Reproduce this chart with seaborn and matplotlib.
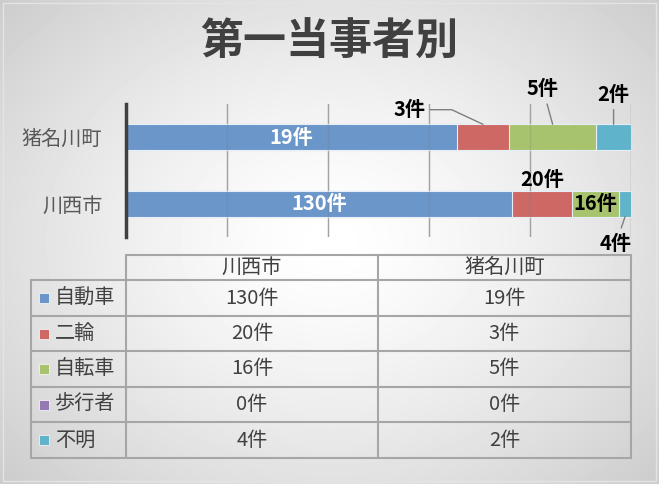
import numpy as np
import pandas as pd
import matplotlib.pyplot as plt
import seaborn as sns
from matplotlib.patches import Rectangle

towns = ['猪名川町', '川西市']
kinds = ['自動車', '二輪', '自転車', '歩行者', '不明']
kawanishi = [130, 20, 16, 0, 4]
inagawa = [19, 3, 5, 0, 2]
colors = ['#6a96c9', '#cd6864', '#a7c36d', '#9579b3', '#5fb3ca']
table_cols = ['川西市', '猪名川町']

sns.set_theme(style='white')
plt.rcParams['font.family'] = ['Noto Sans CJK JP', 'DejaVu Sans']

df = pd.DataFrame({'川西市': kawanishi, '猪名川町': inagawa}, index=kinds)
pct = df / df.sum() * 100
cum = pct.cumsum()
mid = cum - pct / 2

W, H = 659, 484
fig = plt.figure(figsize=(W / 100, H / 100), dpi=100)

# background with radial gradient, also used for the data table
bg = fig.add_axes([0, 0, 1, 1], zorder=0)
yy, xx = np.mgrid[0:H, 0:W]
r = np.sqrt(((xx - 330) / 330) ** 2 + ((yy - 240) / 260) ** 2)
shade = np.clip(1 - 0.13 * r ** 1.4, 0, 1)
bg.imshow(shade, cmap='gray', vmin=0, vmax=1, extent=(0, W, H, 0), aspect='auto')
bg.set_xlim(0, W)
bg.set_ylim(H, 0)
bg.axis('off')
bg.add_patch(Rectangle((3, 3), W - 6, H - 6, fill=False, ec='#e4e4e4', lw=1))

fig.text(0.5, 1 - 42 / H, '第一当事者別', ha='center', va='center',
         fontsize=31, fontweight='bold', color='#404040')

# stacked 100% bars
ax = fig.add_axes([126 / W, 1 - 237 / H, 505 / W, 133 / H], zorder=1)
ax.patch.set_alpha(0)
for i in range(len(kinds) - 1, -1, -1):
    k = kinds[i]
    sns.barplot(x=cum.loc[k, towns].values, y=towns, color=colors[i], saturation=1,
                width=0.39, orient='h', edgecolor='#e8eef5', linewidth=0.8, ax=ax)
ax.set_xlim(0, 100)
ax.set_ylim(1.5, -0.5)
ax.set_xlabel('')
ax.set_ylabel('')
ax.set_xticks([0, 20, 40, 60, 80, 100])
ax.set_xticklabels([])
ax.grid(axis='x', color='#b0b0b0', lw=1)
ax.set_axisbelow(True)
for t in [20, 40, 60, 80, 100]:
    ax.axvline(t, color='#808080', lw=1, alpha=0.25, zorder=3)
for s in ['top', 'right', 'bottom']:
    ax.spines[s].set_visible(False)
ax.spines['left'].set_color('#404040')
ax.spines['left'].set_linewidth(2.5)
ax.tick_params(axis='y', length=0, pad=17, labelsize=14.5, labelcolor='#595959')
ax.tick_params(axis='x', length=0)

lbl = dict(fontsize=14.5, fontweight='bold', ha='center', va='center')
line = dict(arrowstyle='-', color='#7f7f7f', lw=1, shrinkA=1, shrinkB=0)
half = 0.195

# inside labels
ax.text(mid.loc['自動車', '猪名川町'], 0, f"{df.loc['自動車', '猪名川町']}件", color='white', **lbl)
ax.text(mid.loc['自動車', '川西市'], 1, f"{df.loc['自動車', '川西市']}件", color='white', **lbl)
ax.text(mid.loc['自転車', '川西市'], 1, f"{df.loc['自転車', '川西市']}件", color='black', **lbl)

# outside labels with leader lines
ax.annotate(f"{df.loc['二輪', '猪名川町']}件", (mid.loc['二輪', '猪名川町'], -half),
            xytext=(-53, 10.5), textcoords='offset points', color='black', **lbl,
            arrowprops=dict(line, connectionstyle='angle,angleA=0,angleB=-25,rad=0'))
ax.annotate(f"{df.loc['自転車', '猪名川町']}件", (mid.loc['自転車', '猪名川町'], -half),
            xytext=(-7, 25.5), textcoords='offset points', color='black', **lbl,
            arrowprops=line)
ax.annotate(f"{df.loc['不明', '猪名川町']}件", (mid.loc['不明', '猪名川町'], -half),
            xytext=(0, 21.5), textcoords='offset points', color='black', **lbl,
            arrowprops=line)
ax.annotate(f"{df.loc['二輪', '川西市']}件", (mid.loc['二輪', '川西市'], 1 - half),
            xytext=(0, 8), textcoords='offset points', color='black', **lbl)
ax.annotate(f"{df.loc['不明', '川西市']}件", (mid.loc['不明', '川西市'], 1 + half),
            xytext=(-6.5, -19), textcoords='offset points', color='black', **lbl,
            arrowprops=line, annotation_clip=False)

# data table
xs = [31, 126, 378, 631]
ys = [255, 280, 316, 351, 387, 422, 458]
tc = '#a6a6a6'
tlw = 1.5
bg.plot([xs[1], xs[3]], [ys[0], ys[0]], color=tc, lw=tlw)
for y in ys[1:]:
    bg.plot([xs[0], xs[3]], [y, y], color=tc, lw=tlw)
bg.plot([xs[0], xs[0]], [ys[1], ys[-1]], color=tc, lw=tlw)
for x in xs[1:]:
    bg.plot([x, x], [ys[0], ys[-1]], color=tc, lw=tlw)

txt = dict(fontsize=14.5, color='#404040', va='center')
for j, c in enumerate(table_cols):
    bg.text((xs[j + 1] + xs[j + 2]) / 2, (ys[0] + ys[1]) / 2, c, ha='center', **txt)
for i, k in enumerate(kinds):
    yc = (ys[i + 1] + ys[i + 2]) / 2
    bg.add_patch(Rectangle((39, yc - 5), 10, 10, fc=colors[i], ec='#f2f2f2', lw=0.6))
    bg.text(55, yc, k, ha='left', **txt)
    for j, c in enumerate(table_cols):
        bg.text((xs[j + 1] + xs[j + 2]) / 2, yc, f'{df.loc[k, c]}件', ha='center', **txt)

fig.savefig('out.png', dpi=100)
